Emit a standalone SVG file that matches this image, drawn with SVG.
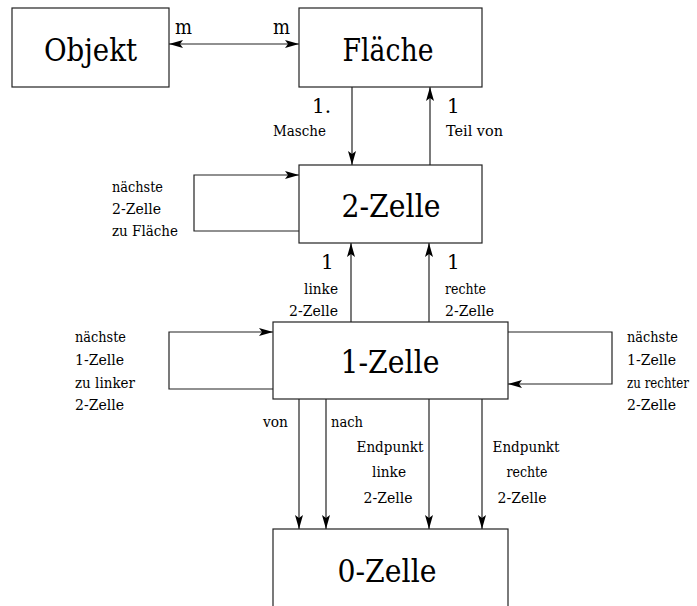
<svg xmlns="http://www.w3.org/2000/svg" width="697" height="606" viewBox="0 0 697 606">
  <defs>
    <marker id="head" viewBox="0 0 14 8" refX="14" refY="4" markerWidth="14" markerHeight="8" markerUnits="userSpaceOnUse" orient="auto-start-reverse">
      <path d="M0,0 L14,4 L0,8 L3,4 z" fill="#000"/>
    </marker>
    <style>
      .box { fill: #fff; stroke: #222; stroke-width: 1.2; }
      .edge { fill: none; stroke: #222; stroke-width: 1.2; }
      text { font-family: 'DejaVu Serif', 'Liberation Serif', serif; fill: #000; }
      .title { font-size: 31px; text-anchor: middle; }
      .mult { font-size: 20px; }
      .lbl { font-size: 15.5px; }
      .end { text-anchor: end; }
      .mid { text-anchor: middle; }
    </style>
  </defs>
  <rect width="697" height="606" fill="#fff"/>

  <!-- connectors -->
  <g id="connectors">
    <path class="edge" d="M169,44 L299,44" marker-start="url(#head)" marker-end="url(#head)"/>
    <path class="edge" d="M352,87 L352,165" marker-end="url(#head)"/>
    <path class="edge" d="M430,165 L430,87" marker-end="url(#head)"/>
    <path class="edge" d="M299,231 L194,231 L194,175 L299,175" marker-end="url(#head)"/>
    <path class="edge" d="M351,322 L351,243" marker-end="url(#head)"/>
    <path class="edge" d="M429,322 L429,243" marker-end="url(#head)"/>
    <path class="edge" d="M273,389 L169,389 L169,332 L273,332" marker-end="url(#head)"/>
    <path class="edge" d="M508,332 L612,332 L612,384 L508,384" marker-end="url(#head)"/>
    <path class="edge" d="M299,399 L299,529" marker-end="url(#head)"/>
    <path class="edge" d="M326,399 L326,529" marker-end="url(#head)"/>
    <path class="edge" d="M429,399 L429,529" marker-end="url(#head)"/>
    <path class="edge" d="M482,399 L482,529" marker-end="url(#head)"/>
  </g>

  <!-- connector labels -->
  <g id="labels">
    <text class="mult" x="175" y="34" textLength="17" lengthAdjust="spacingAndGlyphs">m</text>
    <text class="mult" x="273" y="34" textLength="17" lengthAdjust="spacingAndGlyphs">m</text>
    <text class="mult" x="312" y="113">1.</text>
    <text class="mult" x="447" y="113">1</text>
    <text class="lbl end" x="326" y="136" textLength="53" lengthAdjust="spacingAndGlyphs">Masche</text>
    <text class="lbl" x="446" y="136" textLength="57" lengthAdjust="spacingAndGlyphs">Teil von</text>

    <text class="lbl" x="112" y="192" textLength="51" lengthAdjust="spacingAndGlyphs">nächste</text>
    <text class="lbl" x="112" y="214" textLength="49" lengthAdjust="spacingAndGlyphs">2-Zelle</text>
    <text class="lbl" x="112" y="236" textLength="66" lengthAdjust="spacingAndGlyphs">zu Fläche</text>

    <text class="mult" x="321" y="269">1</text>
    <text class="mult" x="447" y="269">1</text>
    <text class="lbl end" x="338" y="294" textLength="34" lengthAdjust="spacingAndGlyphs">linke</text>
    <text class="lbl end" x="338" y="316" textLength="49" lengthAdjust="spacingAndGlyphs">2-Zelle</text>
    <text class="lbl" x="445" y="294" textLength="41" lengthAdjust="spacingAndGlyphs">rechte</text>
    <text class="lbl" x="445" y="316" textLength="49" lengthAdjust="spacingAndGlyphs">2-Zelle</text>

    <text class="lbl" x="75" y="342" textLength="51" lengthAdjust="spacingAndGlyphs">nächste</text>
    <text class="lbl" x="75" y="365" textLength="49" lengthAdjust="spacingAndGlyphs">1-Zelle</text>
    <text class="lbl" x="75" y="388" textLength="60" lengthAdjust="spacingAndGlyphs">zu linker</text>
    <text class="lbl" x="75" y="410" textLength="49" lengthAdjust="spacingAndGlyphs">2-Zelle</text>

    <text class="lbl" x="627" y="342" textLength="51" lengthAdjust="spacingAndGlyphs">nächste</text>
    <text class="lbl" x="627" y="365" textLength="49" lengthAdjust="spacingAndGlyphs">1-Zelle</text>
    <text class="lbl" x="627" y="388" textLength="62" lengthAdjust="spacingAndGlyphs">zu rechter</text>
    <text class="lbl" x="627" y="410" textLength="49" lengthAdjust="spacingAndGlyphs">2-Zelle</text>

    <text class="lbl end" x="288" y="427" textLength="25" lengthAdjust="spacingAndGlyphs">von</text>
    <text class="lbl" x="331" y="427" textLength="32" lengthAdjust="spacingAndGlyphs">nach</text>
    <text class="lbl mid" x="390" y="452" textLength="67" lengthAdjust="spacingAndGlyphs">Endpunkt</text>
    <text class="lbl mid" x="389" y="477" textLength="34" lengthAdjust="spacingAndGlyphs">linke</text>
    <text class="lbl mid" x="388" y="503" textLength="49" lengthAdjust="spacingAndGlyphs">2-Zelle</text>
    <text class="lbl mid" x="526" y="452" textLength="67" lengthAdjust="spacingAndGlyphs">Endpunkt</text>
    <text class="lbl mid" x="527" y="477" textLength="41" lengthAdjust="spacingAndGlyphs">rechte</text>
    <text class="lbl mid" x="522" y="503" textLength="49" lengthAdjust="spacingAndGlyphs">2-Zelle</text>
  </g>

  <!-- nodes -->
  <g id="objekt">
    <rect class="box" x="12" y="8" width="157" height="79"/>
    <text class="title" x="90.5" y="61" textLength="93" lengthAdjust="spacingAndGlyphs">Objekt</text>
  </g>
  <g id="flaeche">
    <rect class="box" x="299" y="8" width="183" height="79"/>
    <text class="title" x="388" y="61" textLength="91" lengthAdjust="spacingAndGlyphs">Fläche</text>
  </g>
  <g id="zelle2">
    <rect class="box" x="299" y="165" width="183" height="78"/>
    <text class="title" x="391" y="217" textLength="99" lengthAdjust="spacingAndGlyphs">2-Zelle</text>
  </g>
  <g id="zelle1">
    <rect class="box" x="273" y="322" width="235" height="77"/>
    <text class="title" x="390" y="373" textLength="99" lengthAdjust="spacingAndGlyphs">1-Zelle</text>
  </g>
  <g id="zelle0">
    <rect class="box" x="273" y="529" width="235" height="100"/>
    <text class="title" x="387" y="582" textLength="99" lengthAdjust="spacingAndGlyphs">0-Zelle</text>
  </g>
</svg>
